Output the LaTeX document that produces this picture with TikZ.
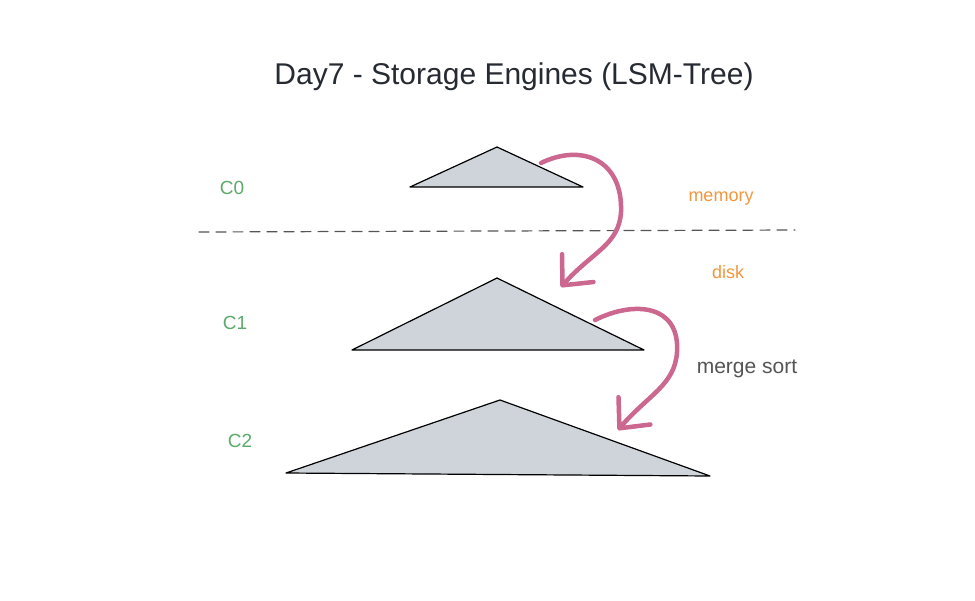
\documentclass[tikz,border=0pt]{standalone}
\usepackage{fontspec}
\setmainfont{Liberation Sans}
\usepackage{tikz}
\usetikzlibrary{arrows.meta}
\usetikzlibrary{positioning}
\definecolor{inkdark}{RGB}{38,42,50}
\definecolor{treefill}{RGB}{206,212,218}
\definecolor{levelgreen}{RGB}{92,170,106}
\definecolor{tierorange}{RGB}{243,150,62}
\definecolor{mergepink}{RGB}{204,104,144}
\definecolor{notegray}{RGB}{85,85,85}
\tikzset{
  tree/.style={fill=treefill,draw=black,line width=1.2pt},
  level/.style={text=levelgreen,font=\fontsize{19}{22}\selectfont},
  tier/.style={text=tierorange,font=\fontsize{18}{21}\selectfont},
  flow/.style={->,draw=mergepink,line width=4.5pt}
}

\begin{document}
\begin{tikzpicture}[line cap=round,line join=round,>={Straight Barb[length=23pt,width=42pt,round]},x=1pt,y=-1pt]
\useasboundingbox[fill=white] (0,0) rectangle (975,600);
% title
\node[text=inkdark,font=\fontsize{30}{36}\selectfont] (title) at (514,77) {Day7 - Storage Engines (LSM-Tree)};
% the three trees
\foreach \n/\ax/\ay/\lx/\ly/\rx/\ry in {0/497/147/410/187/583/187,1/497/278/352/350/644/350,2/500/400/286/473/710/476}
\filldraw[tree] (\ax,\ay) coordinate (top\n) -- (\rx,\ry) -- (\lx,\ly) -- cycle;
\foreach \n/\x/\y in {0/232/188,1/235/323,2/240/441}
\node[level] (c\n) at (\x,\y) {C\n};
% memory / disk border
\draw[notegray,line width=1.2pt,dash pattern=on 10pt off 7pt] (199,232) -- (795,230);
\node[tier] (memory) at (721,199) {memory};
\node[tier] (disk) at (728,272) {disk};
\node[text=notegray,font=\fontsize{21}{25}\selectfont] (merge) at (747,369) {merge sort};
% merges
\coordinate (out0) at (541,163);
\coordinate (in1) at (561,287);
\coordinate (out1) at (595,320);
\coordinate (in2) at (618,430);
\draw[flow] (out0) .. controls (582,143) and (623,160) .. (621,212) .. controls (619,245) and (592,252) .. (in1);
\draw[flow] (out1) .. controls (635,300) and (680,305) .. (677,352) .. controls (675,385) and (648,395) .. (in2);
\end{tikzpicture}
\end{document}
